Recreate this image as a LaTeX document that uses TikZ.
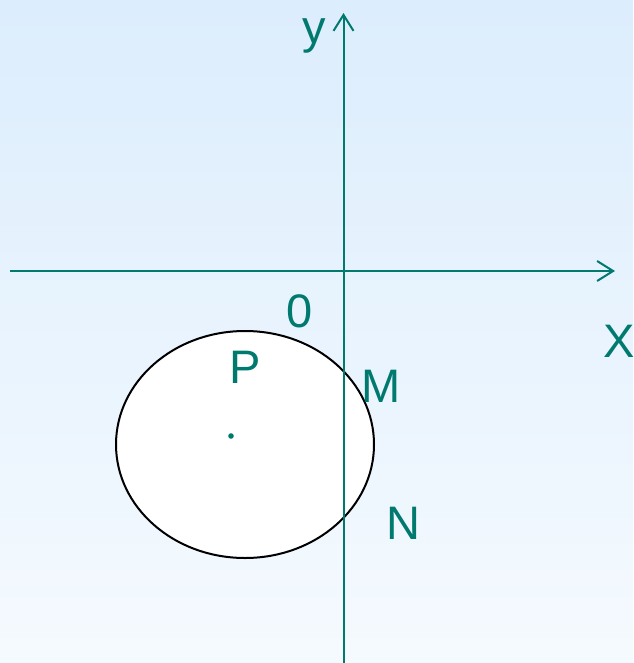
\documentclass[tikz,border=0pt]{standalone}
\usepackage{fontspec}
\setmainfont{Liberation Sans}
\usetikzlibrary{arrows.meta}
\definecolor{teal1}{HTML}{00796F}
\definecolor{bgtop}{HTML}{DCEDFD}
\definecolor{bgbot}{HTML}{F5FAFE}
\tikzset{
  axis/.style={draw=teal1, line width=2pt, -{Straight Barb[length=16pt,width=20pt,line width=2pt]}},
  lbl/.style={text=teal1, font=\fontsize{47}{50}\selectfont, inner sep=0pt, anchor=base},
}
\begin{document}
\begin{tikzpicture}[x=1pt,y=-1pt]
\shade[top color=bgtop, bottom color=bgbot] (0,0) rectangle (633,663);
\useasboundingbox (0,0) rectangle (633,663);
\coordinate (xs) at (10,271);
\coordinate (xe) at (615,271);
\coordinate (ys) at (343.5,663);
\coordinate (ye) at (343.5,13);
\draw[fill=white, draw=black, line width=2pt] (245,444.5) ellipse [x radius=129, y radius=113.5];
\draw[axis] (xs) -- (xe);
\draw[axis] (ys) -- (ye);
\fill[teal1] (231,436) circle (2.8);
\node[lbl] (ylab) at (314,44) {y};
\node[lbl, anchor=base west] (xlab) at (603,357) {X};
\node[lbl] (zero) at (300,327) {0};
\node[lbl] (P) at (245,383) {P};
\node[lbl] (M) at (381,402) {M};
\node[lbl] (N) at (403,539) {N};
\end{tikzpicture}
\end{document}
